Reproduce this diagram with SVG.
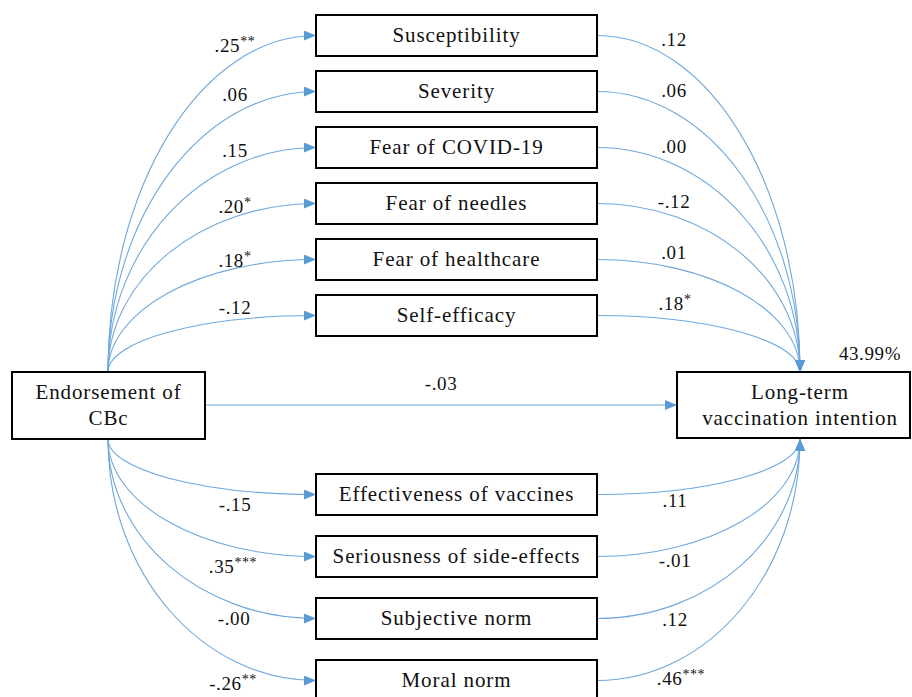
<svg xmlns="http://www.w3.org/2000/svg" width="912" height="697" viewBox="0 0 912 697">
<style>
.box{fill:#fff;stroke:#000;stroke-width:2}
text{font-family:'Liberation Serif','Times New Roman','DejaVu Serif','Noto Serif',Georgia,serif;fill:#111;text-anchor:middle}
.nt{font-size:21px;letter-spacing:0.9px}
.lb{font-size:19px;letter-spacing:0.6px}
.sup{font-size:14px}
.c{fill:none;stroke:#6FA8DC;stroke-width:1.1;marker-end:url(#ah)}
</style>
<defs>
<marker id="ah" markerUnits="userSpaceOnUse" markerWidth="12" markerHeight="10" refX="12" refY="5" orient="auto">
<path d="M0,0 L12,5 L0,10 z" fill="#5B9BD5"/>
</marker>
</defs>
<rect width="912" height="697" fill="#fff"/>
<g id="connectors">
<path class="c" d="M108,372 C108,186.3 201.2,35.5 316,35.5"/>
<path class="c" d="M108,372 C108,217.2 201.2,91.5 316,91.5"/>
<path class="c" d="M108,372 C108,248.1 201.2,147.5 316,147.5"/>
<path class="c" d="M108,372 C108,279 201.2,203.5 316,203.5"/>
<path class="c" d="M108,372 C108,309.9 201.2,259.5 316,259.5"/>
<path class="c" d="M108,372 C108,340.8 201.2,315.5 316,315.5"/>
<path class="c" d="M108,439 C108,469.6 201.2,494.5 316,494.5"/>
<path class="c" d="M108,439 C108,503.9 201.2,556.5 316,556.5"/>
<path class="c" d="M108,439 C108,538.1 201.2,618.5 316,618.5"/>
<path class="c" d="M108,439 C108,572.3 201.2,680.5 316,680.5"/>
<path class="c" d="M597,35.5 C709,35.5 800,186.3 800,372"/>
<path class="c" d="M597,91.5 C709,91.5 800,217.2 800,372"/>
<path class="c" d="M597,147.5 C709,147.5 800,248.1 800,372"/>
<path class="c" d="M597,203.5 C709,203.5 800,279 800,372"/>
<path class="c" d="M597,259.5 C709,259.5 800,309.9 800,372"/>
<path class="c" d="M597,315.5 C709,315.5 800,340.8 800,372"/>
<path class="c" d="M597,494.5 C709,494.5 800,469.6 800,439"/>
<path class="c" d="M597,556.5 C709,556.5 800,503.9 800,439"/>
<path class="c" d="M597,618.5 C709,618.5 800,538.1 800,439"/>
<path class="c" d="M597,680.5 C709,680.5 800,572.3 800,439"/>
<path class="c" d="M205,405 L677,405"/>
</g>
<g id="labels">
<text class="lb" x="235" y="52">.25<tspan class="sup" dy="-6">**</tspan></text>
<text class="lb" x="235" y="101">.06</text>
<text class="lb" x="235" y="157">.15</text>
<text class="lb" x="235" y="213">.20<tspan class="sup" dy="-6">*</tspan></text>
<text class="lb" x="235" y="267">.18<tspan class="sup" dy="-6">*</tspan></text>
<text class="lb" x="235" y="314">-.12</text>
<text class="lb" x="441" y="390">-.03</text>
<text class="lb" x="235" y="511">-.15</text>
<text class="lb" x="233" y="573">.35<tspan class="sup" dy="-6">***</tspan></text>
<text class="lb" x="234" y="625">-.00</text>
<text class="lb" x="233" y="690">-.26<tspan class="sup" dy="-6">**</tspan></text>
<text class="lb" x="674" y="46">.12</text>
<text class="lb" x="674" y="97">.06</text>
<text class="lb" x="674" y="153">.00</text>
<text class="lb" x="674" y="208">-.12</text>
<text class="lb" x="674" y="259">.01</text>
<text class="lb" x="675" y="310">.18<tspan class="sup" dy="-6">*</tspan></text>
<text class="lb" x="870" y="360">43.99%</text>
<text class="lb" x="675" y="507">.11</text>
<text class="lb" x="675" y="567">-.01</text>
<text class="lb" x="675" y="626">.12</text>
<text class="lb" x="681" y="685">.46<tspan class="sup" dy="-6">***</tspan></text>
</g>
<g id="n-endorsement"><rect class="box" x="12" y="372" width="193" height="67"/><text class="nt" x="108.5" y="399">Endorsement of</text><text class="nt" x="108.5" y="425">CBc</text></g>
<g id="n-intention"><rect class="box" x="677" y="372" width="233" height="66"/><text class="nt" x="800" y="399">Long-term</text><text class="nt" x="800" y="425">vaccination intention</text></g>
<g id="n-susceptibility"><rect class="box" x="316" y="15" width="281" height="41"/><text class="nt" x="456.5" y="42">Susceptibility</text></g>
<g id="n-severity"><rect class="box" x="316" y="71" width="281" height="41"/><text class="nt" x="456.5" y="98">Severity</text></g>
<g id="n-fearcovid"><rect class="box" x="316" y="127" width="281" height="41"/><text class="nt" x="456.5" y="154">Fear of COVID-19</text></g>
<g id="n-fearneedles"><rect class="box" x="316" y="183" width="281" height="41"/><text class="nt" x="456.5" y="210">Fear of needles</text></g>
<g id="n-fearhealthcare"><rect class="box" x="316" y="239" width="281" height="41"/><text class="nt" x="456.5" y="266">Fear of healthcare</text></g>
<g id="n-selfefficacy"><rect class="box" x="316" y="295" width="281" height="41"/><text class="nt" x="456.5" y="322">Self-efficacy</text></g>
<g id="n-effectiveness"><rect class="box" x="316" y="474" width="281" height="41"/><text class="nt" x="456.5" y="501">Effectiveness of vaccines</text></g>
<g id="n-seriousness"><rect class="box" x="316" y="536" width="281" height="41"/><text class="nt" x="456.5" y="563">Seriousness of side-effects</text></g>
<g id="n-subjective"><rect class="box" x="316" y="598" width="281" height="41"/><text class="nt" x="456.5" y="625">Subjective norm</text></g>
<g id="n-moral"><rect class="box" x="316" y="660" width="281" height="41"/><text class="nt" x="456.5" y="687">Moral norm</text></g>
</svg>
